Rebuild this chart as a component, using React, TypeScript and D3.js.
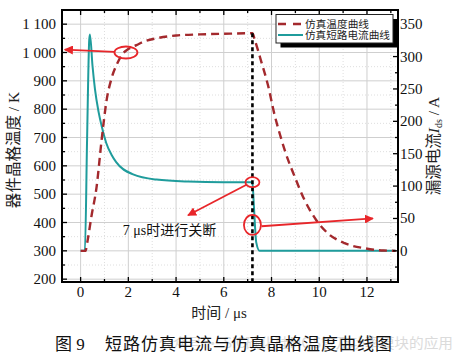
import React from 'react';
import * as d3 from 'd3';

// temperature curve (K) vs time (us)
const tempTime = [0, 0.2, 0.3, 0.45, 0.67, 0.88, 1.09, 1.3, 1.5, 1.78, 2.0, 2.34, 2.7, 3.18, 4.0, 5.0, 6.0, 7.2, 7.3, 7.57, 7.85, 8.13, 8.38, 8.55, 8.97, 9.38, 9.87, 10.36, 11.06, 11.9, 12.7, 13.2];
const tempK = [300, 300, 340, 420, 526, 691, 832, 910, 955, 997, 1012, 1026, 1040, 1050, 1060, 1064, 1066, 1068, 1044, 968, 885, 779, 703, 656, 562, 480, 409, 362, 327, 309, 301, 300];

// short-circuit current (A) vs time (us)
const curTime = [0, 0.18, 0.27, 0.36, 0.39, 0.5, 0.6, 0.75, 0.9, 1.07, 1.3, 1.49, 2.2, 3.18, 4.5, 6.0, 7.2, 7.26, 7.36, 7.5, 13.2];
const curA = [0, 0, 170, 325, 334, 285, 250, 215, 190, 167, 148, 137, 118, 110, 107, 106, 106, 70, 13, 0, 0];

const xTicks = [0, 2, 4, 6, 8, 10, 12];
const xMinor = [1, 3, 5, 7, 9, 11, 13];
const leftTicks = [200, 300, 400, 500, 600, 700, 800, 900, 1000, 1100];
const leftTickLabels = ['200', '300', '400', '500', '600', '700', '800', '900', '1 000', '1 100'];
const leftMinor = [250, 350, 450, 550, 650, 750, 850, 950, 1050];
const rightTicks = [0, 50, 100, 150, 200, 250, 300, 350];
const rightMinor = [-25, 25, 75, 125, 175, 225, 275, 325];
const cutoffTime = 7.2;
const legendLabels = ['仿真温度曲线', '仿真短路电流曲线'];

const W = 466;
const H = 363;
const L = 62, R = 398, T = 10, B = 282;

const serif = '"Liberation Serif", "Times New Roman", "Noto Sans CJK SC", serif';
const cjk = '"Noto Sans CJK SC", sans-serif';
const tempColor = '#a3292d';
const curColor = '#1f9c9c';
const red = '#e8262a';

export default function App() {
  const x = d3.scaleLinear().domain([-0.78, 13.3]).range([L, R]);
  const yL = d3.scaleLinear().domain([190, 1150]).range([B, T]);
  const yR = d3.scaleLinear().domain([-48.1, 371.9]).range([B, T]);

  const tempLine = d3.line<number>()
    .x((d, i) => x(tempTime[i]))
    .y(d => yL(d))
    .curve(d3.curveMonotoneX);
  const curLine = d3.line<number>()
    .x((d, i) => x(curTime[i]))
    .y(d => yR(d))
    .curve(d3.curveMonotoneX);

  const peakK = d3.max(tempK) as number;

  return (
    <svg width={W} height={H} style={{ position: 'absolute', left: 0, top: 0, background: '#fff' }} fontFamily={serif}>
      <defs>
        <marker id="arr" viewBox="0 0 10 10" refX="9" refY="5" markerWidth="5" markerHeight="5" orient="auto">
          <path d="M0,0 L10,5 L0,10 z" fill={red} />
        </marker>
        <clipPath id="plot"><rect x={L} y={T} width={R - L} height={B - T} /></clipPath>
      </defs>

      {/* grid */}
      <g>
        {xMinor.map(v => (
          <line key={'xm' + v} x1={x(v)} x2={x(v)} y1={T} y2={B} stroke="#dedede" strokeDasharray="1,2" />
        ))}
        {leftMinor.map(v => (
          <line key={'lm' + v} x1={L} x2={R} y1={yL(v)} y2={yL(v)} stroke="#dedede" strokeDasharray="1,2" />
        ))}
        {xTicks.map(v => (
          <line key={'xg' + v} x1={x(v)} x2={x(v)} y1={T} y2={B} stroke="#cfcfcf" strokeWidth={1} />
        ))}
        {leftTicks.map(v => (
          <line key={'lg' + v} x1={L} x2={R} y1={yL(v)} y2={yL(v)} stroke="#cfcfcf" strokeWidth={1} />
        ))}
      </g>

      {/* curves */}
      <g clipPath="url(#plot)">
        <path d={curLine(curA) || ''} fill="none" stroke={curColor} strokeWidth={2} />
        <path d={tempLine(tempK) || ''} fill="none" stroke={tempColor} strokeWidth={2.4} strokeDasharray="8,5" />
        <line x1={x(cutoffTime)} x2={x(cutoffTime)} y1={yL(peakK)} y2={B} stroke="#000" strokeWidth={2.6} strokeDasharray="4,3" />
      </g>

      {/* annotations */}
      <g fill="none" stroke={red} strokeWidth={1.8}>
        <ellipse cx={x(1.9)} cy={yL(1000)} rx={11.5} ry={6} />
        <line x1={x(1.42)} y1={yL(1002)} x2={x(-0.66)} y2={yL(1010)} markerEnd="url(#arr)" />
        <ellipse cx={x(cutoffTime)} cy={yR(106)} rx={7} ry={5} />
        <line x1={x(6.95)} y1={yR(102)} x2={x(4.5)} y2={yR(55)} markerEnd="url(#arr)" />
        <ellipse cx={x(cutoffTime)} cy={yR(40)} rx={8.5} ry={10} />
        <line x1={x(7.58)} y1={yR(38)} x2={x(12.25)} y2={yR(50)} markerEnd="url(#arr)" />
      </g>
      <text x={x(1.77)} y={yR(25)} fontSize={14} fill="#111">
        7 μs<tspan fontFamily={cjk}>时进行关断</tspan>
      </text>

      {/* frame */}
      <rect x={L} y={T} width={R - L} height={B - T} fill="none" stroke="#000" strokeWidth={2} />

      {/* ticks */}
      <g stroke="#000" strokeWidth={1.3}>
        {xTicks.map(v => (
          <g key={'xt' + v}>
            <line x1={x(v)} x2={x(v)} y1={B} y2={B - 5} />
            <line x1={x(v)} x2={x(v)} y1={T} y2={T + 5} />
          </g>
        ))}
        {xMinor.map(v => (
          <g key={'xmt' + v}>
            <line x1={x(v)} x2={x(v)} y1={B} y2={B - 3} />
            <line x1={x(v)} x2={x(v)} y1={T} y2={T + 3} />
          </g>
        ))}
        {leftTicks.map(v => (
          <line key={'lt' + v} x1={L} x2={L + 5} y1={yL(v)} y2={yL(v)} />
        ))}
        {leftMinor.map(v => (
          <line key={'lmt' + v} x1={L} x2={L + 3} y1={yL(v)} y2={yL(v)} />
        ))}
        {rightTicks.map(v => (
          <line key={'rt' + v} x1={R} x2={R - 5} y1={yR(v)} y2={yR(v)} />
        ))}
        {rightMinor.map(v => (
          <line key={'rmt' + v} x1={R} x2={R - 3} y1={yR(v)} y2={yR(v)} />
        ))}
      </g>

      {/* tick labels */}
      <g fontSize={15} fill="#111">
        {xTicks.map(v => (
          <text key={'xl' + v} x={x(v)} y={B + 15} textAnchor="middle">{v}</text>
        ))}
        {leftTicks.map((v, i) => (
          <text key={'ll' + v} x={L - 6} y={yL(v) + 5} textAnchor="end">{leftTickLabels[i]}</text>
        ))}
        {rightTicks.map(v => (
          <text key={'rl' + v} x={R + 2} y={yR(v) + 5} textAnchor="start">{v}</text>
        ))}
      </g>

      {/* axis titles */}
      <text transform={`translate(19,${(T + B) / 2 + 4}) rotate(-90)`} textAnchor="middle" fontSize={15.5} fill="#222">
        <tspan fontFamily={cjk}>器件晶格温度</tspan> / K
      </text>
      <text transform={`translate(439,${(T + B) / 2}) rotate(-90)`} textAnchor="middle" fontSize={15.5} fill="#222">
        <tspan fontFamily={cjk}>漏源电流</tspan><tspan fontStyle="italic">I</tspan><tspan fontSize={10} dy={3}>ds</tspan><tspan dy={-3}> / A</tspan>
      </text>
      <text x={219} y={318} textAnchor="middle" fontSize={15} fill="#222">
        <tspan fontFamily={cjk}>时间</tspan> / μs
      </text>

      {/* legend */}
      <g>
        <rect x={280.5} y={19} width={117} height={28.5} fill="#000" />
        <rect x={276} y={14.5} width={117} height={28.5} fill="#fff" stroke="#222" strokeWidth={1} />
        <line x1={278} x2={303} y1={24} y2={24} stroke={tempColor} strokeWidth={2.4} strokeDasharray="8,7" />
        <line x1={278} x2={303} y1={35} y2={35} stroke={curColor} strokeWidth={2} />
        <text x={305} y={27.5} fontSize={9.8} fontFamily={cjk} fill="#222" textLength={64} lengthAdjust="spacingAndGlyphs">{legendLabels[0]}</text>
        <text x={305} y={39} fontSize={9.8} fontFamily={cjk} fill="#222" textLength={85} lengthAdjust="spacingAndGlyphs">{legendLabels[1]}</text>
      </g>

      {/* caption + watermark */}
      <text x={158} y={348} fontSize={14} fontFamily={cjk} fill="#cccccc" opacity={0.7} textLength={295} lengthAdjust="spacingAndGlyphs">
        公众号 · SiC碳化硅MOS管及功率模块的应用
      </text>
      <text x={55} y={350} fontSize={17} fill="#111">
        <tspan fontFamily={cjk}>图</tspan> 9
      </text>
      <text x={105} y={350} fontSize={17} fontFamily={cjk} fill="#111" letterSpacing={1}>
        短路仿真电流与仿真晶格温度曲线图
      </text>
    </svg>
  );
}
